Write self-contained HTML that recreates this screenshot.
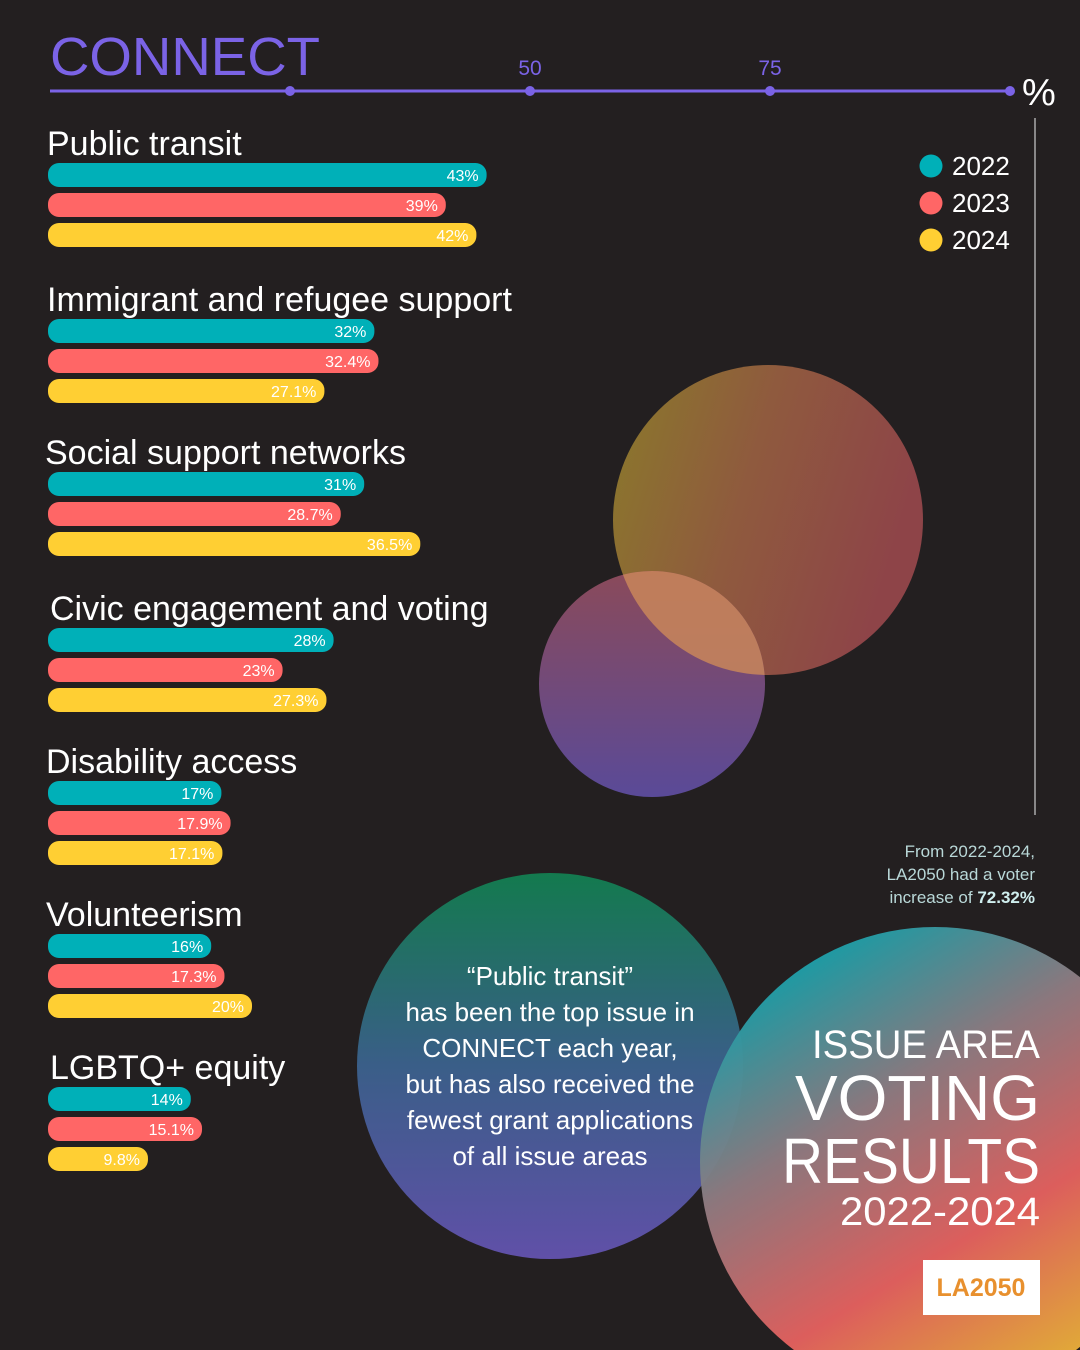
<!DOCTYPE html>
<html><head><meta charset="utf-8"><style>
html,body{margin:0;padding:0;background:#231f20;}
svg{display:block;font-family:"Liberation Sans",sans-serif;}
</style></head><body>
<svg id="chart" width="1080" height="1350" viewBox="0 0 1080 1350" xmlns="http://www.w3.org/2000/svg">
<defs>
<linearGradient id="gBig" x1="0" y1="0" x2="1" y2="0.3"><stop offset="0" stop-color="#8a7a2a"/><stop offset="0.5" stop-color="#8f5a3e"/><stop offset="1" stop-color="#8e4448"/></linearGradient>
<linearGradient id="gSmall" x1="0" y1="0" x2="0" y2="1"><stop offset="0" stop-color="#8a4a5a"/><stop offset="1" stop-color="#5a4a98"/></linearGradient>
<linearGradient id="gMid" x1="0" y1="0" x2="0" y2="1"><stop offset="0" stop-color="#137a4e"/><stop offset="0.5" stop-color="#3a5e88"/><stop offset="1" stop-color="#6050a8"/></linearGradient>
<linearGradient id="gRight" x1="0.2" y1="0" x2="0.8" y2="1"><stop offset="0" stop-color="#03a6b0"/><stop offset="0.35" stop-color="#8e7a80"/><stop offset="0.65" stop-color="#e2605e"/><stop offset="1" stop-color="#e8c030"/></linearGradient>
<clipPath id="clipSmall"><circle cx="652" cy="684" r="113"/></clipPath>
</defs>
<g id="decor">
<circle cx="768" cy="520" r="155" fill="url(#gBig)"/>
<circle cx="652" cy="684" r="113" fill="url(#gSmall)"/>
<circle cx="768" cy="520" r="155" fill="#c9865a" opacity="0.85" clip-path="url(#clipSmall)"/>
<circle cx="550" cy="1066" r="193" fill="url(#gMid)"/>
<circle cx="935" cy="1162" r="235" fill="url(#gRight)" opacity="0.97"/>
</g>
<text x="50" y="75" fill="#7b63e6" font-size="54" textLength="270" lengthAdjust="spacingAndGlyphs">CONNECT</text>
<g id="axis"></g>
<text x="1022" y="105" fill="#fff" font-size="38">%</text>
<line x1="1035" y1="118" x2="1035" y2="815" stroke="#aaa" stroke-width="1.5"/>
<g id="legend"></g>
<g id="bars"></g>
<g fill="#b9d8d8" font-size="17" text-anchor="end">
<text x="1035" y="857">From 2022-2024,</text>
<text x="1035" y="880">LA2050 had a voter</text>
<text x="1035" y="903">increase of <tspan font-weight="bold" fill="#cfeeee">72.32%</tspan></text>
</g>
<g fill="#fff" font-size="26" text-anchor="middle">
<text x="550" y="985">“Public transit”</text>
<text x="550" y="1021">has been the top issue in</text>
<text x="550" y="1057">CONNECT each year,</text>
<text x="550" y="1093">but has also received the</text>
<text x="550" y="1129">fewest grant applications</text>
<text x="550" y="1165">of all issue areas</text>
</g>
<g fill="#fff">
<text x="812" y="1058" font-size="40" textLength="228" lengthAdjust="spacingAndGlyphs">ISSUE AREA</text>
<text x="795" y="1120" font-size="64" textLength="245" lengthAdjust="spacingAndGlyphs">VOTING</text>
<text x="782" y="1183" font-size="64" textLength="258" lengthAdjust="spacingAndGlyphs">RESULTS</text>
<text x="840" y="1225" font-size="40" textLength="200" lengthAdjust="spacingAndGlyphs">2022-2024</text>
</g>
<rect x="923" y="1260" width="117" height="55" fill="#fff"/>
<text x="981" y="1296" fill="#e8902e" font-size="25" font-weight="bold" text-anchor="middle">LA2050</text>
</svg>
<script>
const categories=["Public transit","Immigrant and refugee support","Social support networks","Civic engagement and voting","Disability access","Volunteerism","LGBTQ+ equity"];
const years=["2022","2023","2024"];
const values2022=[43,32,31,28,17,16,14];
const values2023=[39,32.4,28.7,23,17.9,17.3,15.1];
const values2024=[42,27.1,36.5,27.3,17.1,20,9.8];
const labels2022=["43%","32%","31%","28%","17%","16%","14%"];
const labels2023=["39%","32.4%","28.7%","23%","17.9%","17.3%","15.1%"];
const labels2024=["42%","27.1%","36.5%","27.3%","17.1%","20%","9.8%"];
const axisTicks=[25,50,75,100];
const axisTickLabels=["","50","75",""];
const NS="http://www.w3.org/2000/svg";
const colors=["#00b0b8","#ff6666","#ffcf33"];
function el(t,a,p){const e=document.createElementNS(NS,t);for(const k in a)e.setAttribute(k,a[k]);p.appendChild(e);return e;}
const axisX=v=>50+v*9.6;
const barW=v=>v*10.2;
const ax=document.getElementById('axis');
const axl=el('line',{x1:50,y1:91,x2:axisX(100),y2:91,stroke:'#7b63e6','stroke-width':3},ax);


axisTicks.forEach((t,i)=>{
 const c=el('circle',{cx:axisX(t),cy:91,r:5,fill:'#7b63e6'},ax);
 
 
 if(axisTickLabels[i]){const tx=el('text',{x:axisX(t),y:75,fill:'#7b63e6','font-size':21,'text-anchor':'middle'},ax);tx.textContent=axisTickLabels[i];
 
 }
});
const lg=document.getElementById('legend');
years.forEach((y,i)=>{
 const g=el('g',{},lg);
 
 
 el('circle',{cx:931,cy:166+i*37,r:11.5,fill:colors[i]},g);
 const t=el('text',{x:952,y:175+i*37,fill:'#fff','font-size':26},g);t.textContent=y;
});
const series=[values2022,values2023,values2024];
const slabels=[labels2022,labels2023,labels2024];
const groupTops=[163,319,472,628,781,934,1087];
const titleX=[47,47,45,50,46,46,50];
const bg=document.getElementById('bars');
categories.forEach((c,ci)=>{
 const top=groupTops[ci];
 const tt=el('text',{x:titleX[ci],y:top-8,fill:'#fff','font-size':34},bg);tt.textContent=c;
 
 
 series.forEach((s,si)=>{
  const y=top+si*30, w=barW(s[ci]);
  const r=el('rect',{x:48,y:y,width:w,height:24,rx:11,fill:colors[si]},bg);
  
  
  const l=el('text',{x:48+w-8,y:y+18,fill:'#fff','font-size':16,'text-anchor':'end'},bg);l.textContent=slabels[si][ci];
  
  
 });
});
</script>
</body></html>
